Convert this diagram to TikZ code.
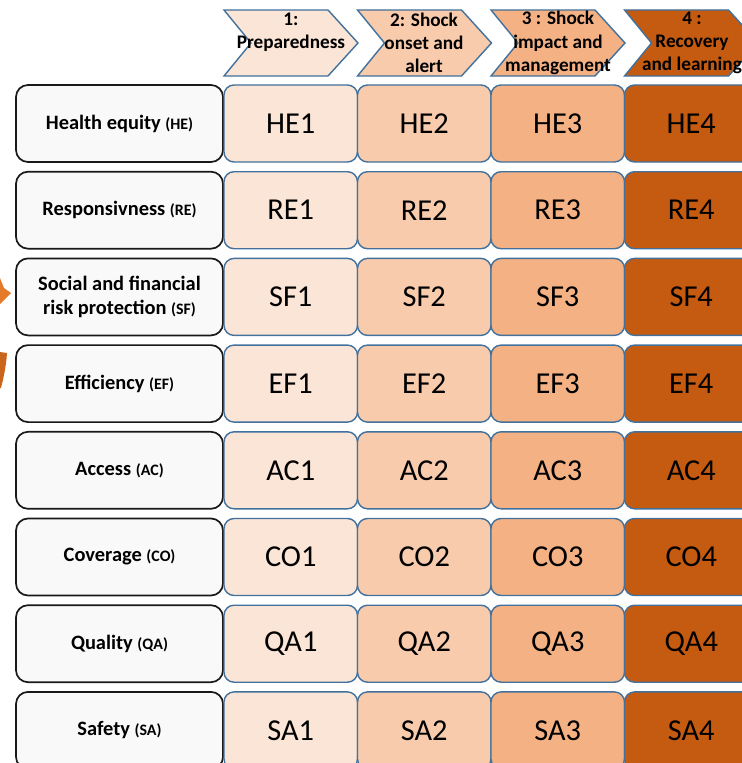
\documentclass[tikz,border=0pt]{standalone}
\usepackage{fontspec}
\setmainfont{Carlito}
\definecolor{phaseA}{HTML}{FBE5D6}
\definecolor{phaseB}{HTML}{F8CBAD}
\definecolor{phaseC}{HTML}{F4B183}
\definecolor{phaseD}{HTML}{C55A11}
\definecolor{cellEdge}{HTML}{41719C}
\definecolor{lblFill}{HTML}{F9F9F9}
\definecolor{arrowOrange}{HTML}{E47A2A}
\definecolor{arrowDark}{HTML}{C9661C}
\tikzset{
  lblbox/.style={draw=black!90, line width=1.7bp, fill=lblFill, rounded corners=12bp,
    minimum width=207bp, minimum height=77bp, inner sep=0pt, align=center,
    font=\fontsize{20.5}{25}\selectfont\bfseries},
  cellbox/.style={draw=cellEdge, line width=1.4bp, rounded corners=10bp,
    minimum width=133.5bp, minimum height=77bp, inner sep=0pt,
    font=\fontsize{30.5}{33}\selectfont},
  chev/.style={draw=cellEdge, line width=1.4bp, line join=miter},
  chevtext/.style={align=center, inner sep=0pt, font=\fontsize{19.3}{23.3}\selectfont\bfseries}
}
\newcommand{\abbr}[1]{{\fontsize{16}{18}\selectfont (#1)}}
\begin{document}
\begin{tikzpicture}[x=1bp,y=-1bp]
\useasboundingbox (0,0) rectangle (742,763);
\clip (0,0) rectangle (742,763);

% phase chevrons across the top
\foreach \k/\col in {0/phaseA,1/phaseB,2/phaseC,3/phaseD}{
  \pgfmathsetmacro{\xl}{224+133.5*\k}
  \draw[chev, fill=\col] (\xl,10) -- (\xl+104,10) -- (\xl+134,43) -- (\xl+104,76)
     -- (\xl,76) -- (\xl+27,43) -- cycle;
}
\node[chevtext] (ph1) at (291,32) {1:\\Preparedness};
\node[chevtext] (ph2) at (424,43) {2: Shock\\onset and\\alert};
\node[chevtext] (ph3) at (558,43) {3 : Shock\\impact and\\management};
\node[chevtext] (ph4) at (692,43) {4 :\\Recovery\\and learning};

% pieces of the orange cycle arrow at the left edge
\fill[arrowOrange] (0,278) -- (4,288) -- (11,293) -- (0,304) -- cycle;
\fill[arrowDark] (0,352) -- (7,353) .. controls (6,368) and (3,380) .. (1,388) -- (0,388) -- cycle;

% dimension rows
\foreach \code/\lab [count=\i from 0] in {
  HE/Health equity,
  RE/Responsivness,
  SF/{Social and financial\\risk protection},
  EF/Efficiency,
  AC/Access,
  CO/Coverage,
  QA/Quality,
  SA/Safety}{
  \pgfmathsetmacro{\yc}{123.5+86.7*\i}
  \node[lblbox] (lab\code) at (119.5,\yc) {\lab\ \abbr{\code}};
  \node[cellbox, fill=phaseA] (\code1) at (290.75,\yc) {\code1};
  \node[cellbox, fill=phaseB] (\code2) at (424.25,\yc) {\code2};
  \node[cellbox, fill=phaseC] (\code3) at (557.75,\yc) {\code3};
  \node[cellbox, fill=phaseD] (\code4) at (691.25,\yc) {\code4};
}
\end{tikzpicture}
\end{document}
